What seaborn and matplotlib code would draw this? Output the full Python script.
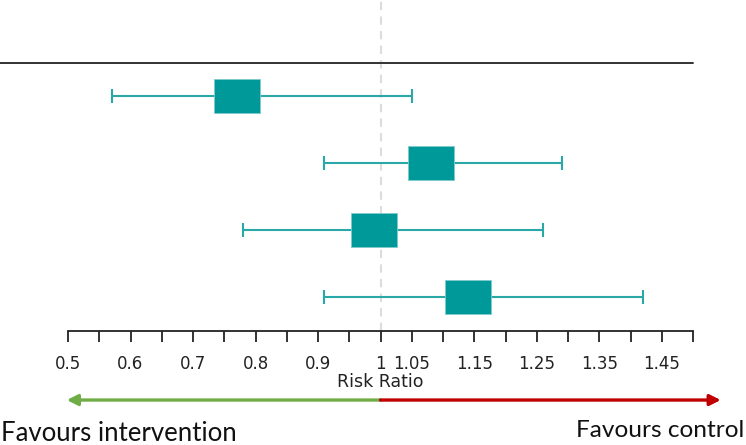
import numpy as np
import pandas as pd
import matplotlib
matplotlib.use("Agg")
import matplotlib.pyplot as plt
import seaborn as sns

# Study estimates (risk ratio with 95% CI), top to bottom
rows = [1, 2, 3, 4]
risk_ratio = [0.77, 1.08, 0.99, 1.14]
ci_lower = [0.57, 0.91, 0.78, 0.91]
ci_upper = [1.05, 1.29, 1.26, 1.42]

# Axis ticks and their labels
tick_values = [0.5, 0.55, 0.6, 0.65, 0.7, 0.75, 0.8, 0.85, 0.9, 0.95, 1.0,
               1.05, 1.1, 1.15, 1.2, 1.25, 1.3, 1.35, 1.4, 1.45, 1.5]
tick_labels = ["0.5", "", "0.6", "", "0.7", "", "0.8", "", "0.9", "", "1",
               "1.05", "", "1.15", "", "1.25", "", "1.35", "", "1.45", ""]

df = pd.DataFrame({"row": rows, "rr": risk_ratio, "lo": ci_lower, "hi": ci_upper})

sns.set_theme(style="white")
plt.rcParams["font.family"] = ["DejaVu Sans"]

W, H = 746, 445
fig = plt.figure(figsize=(W / 100, H / 100), dpi=100)
ax = fig.add_axes([68 / W, 1 - 331 / H, 625 / W, 331 / H])

teal = "#009999"
whisker = "#2aa8a8"
text_col = "#222222"

# null line
ax.axvline(1.0, color="#dcdcdc", lw=1.5, ls=(0, (4, 3)), zorder=0)

# confidence intervals
ax.errorbar(df["rr"], df["row"],
            xerr=[df["rr"] - df["lo"], df["hi"] - df["rr"]],
            fmt="none", ecolor=whisker, elinewidth=1.5, capsize=5,
            capthick=1.5, zorder=2)

# point estimates as rectangles
box = [(-1, -0.76), (1, -0.76), (1, 0.76), (-1, 0.76), (-1, -0.76)]
sns.scatterplot(data=df, x="rr", y="row", marker=box, s=1096, color=teal,
                edgecolor="#7fcccc", linewidth=0.6, ax=ax, zorder=3,
                legend=False)

ax.set_xlim(0.5, 1.5)
ax.set_ylim(4.507, -0.433)

# header rule
ax.plot([0.5 - 68 / 625, 1.5], [0.5, 0.5], color="#333333", lw=1.4,
        clip_on=False, zorder=1)

for side in ["top", "right", "left"]:
    ax.spines[side].set_visible(False)
ax.spines["bottom"].set_color("#222222")
ax.spines["bottom"].set_linewidth(1.3)
ax.set_yticks([])
ax.set_xticks(tick_values)
ax.set_xticklabels(tick_labels, fontsize=12, color=text_col)
ax.tick_params(axis="x", direction="out", length=8, width=1.3,
               color="#222222", pad=9, bottom=True)
ax.set_xlabel("Risk Ratio", fontsize=12.5, color=text_col, labelpad=0)
ax.set_ylabel("")

# direction arrows
arrow_y = (400 - 29) / 67
ax.annotate("", xy=(0.498, arrow_y), xytext=(1.0, arrow_y),
            xycoords="data", annotation_clip=False,
            arrowprops=dict(arrowstyle="-|>", color="#70ad47", lw=2.4,
                            mutation_scale=16, shrinkA=0, shrinkB=0))
ax.annotate("", xy=(1.5445, arrow_y), xytext=(1.0, arrow_y),
            xycoords="data", annotation_clip=False,
            arrowprops=dict(arrowstyle="-|>", color="#c00000", lw=2.4,
                            mutation_scale=16, shrinkA=0, shrinkB=0))

fig.text(1 / W, 1 - 441 / H, "Favours intervention", family=["Lato"],
         fontsize=18.5, color="#111111", ha="left", va="baseline")
fig.text(744 / W, 1 - 437 / H, "Favours control", family=["Lato"],
         fontsize=17.6, color="#111111", ha="right", va="baseline")

fig.savefig("out.png", dpi=100)
